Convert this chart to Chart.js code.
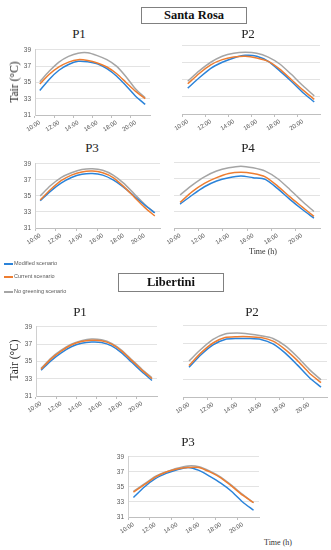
<!DOCTYPE html>
<html>
<head>
<meta charset="utf-8">
<script src="https://cdn.jsdelivr.net/npm/chart.js@4.4.1/dist/chart.umd.min.js"></script>
<style>
  body { margin: 0; background: #fff; width: 331px; height: 550px; position: relative; overflow: hidden; font-family: 'Liberation Serif', serif; color: #111; }
  canvas { position: absolute; }
  .site { position: absolute; border: 1px solid #808080; box-sizing: border-box; text-align: center; font-weight: bold; font-size: 12.5px; }
  .ptitle { position: absolute; font-size: 13px; transform: translate(-50%, -50%); white-space: nowrap; color: #222; }
  .ylab { position: absolute; font-size: 11.5px; transform: translate(-50%, -50%) rotate(-90deg); white-space: nowrap; color: #222; }
  .time { position: absolute; font-size: 8px; transform: translate(-50%, -50%); white-space: nowrap; color: #333; }
  .leg { position: absolute; font-family: 'Liberation Sans', sans-serif; font-size: 5.5px; color: #595959; white-space: nowrap; line-height: 6px; }
  .leg span { display: inline-block; width: 9px; height: 2px; vertical-align: middle; margin-right: 1px; }
</style>
</head>
<body>
<script>
// hourly samples, every second one labelled
const hours = ['10:00', '11:00', '12:00', '13:00', '14:00', '15:00', '16:00', '17:00', '18:00', '19:00', '20:00', '21:00'];
const yTicks = [31, 33, 35, 37, 39];
const seriesNames = ['Modified scenario', 'Current scenario', 'No greening scenario'];
const seriesColors = ['#2b83d9', '#ed7d31', '#a5a5a5'];

// Santa Rosa
const srP1Modified = [34.0, 35.4, 36.5, 37.2, 37.6, 37.55, 37.3, 36.7, 35.8, 34.6, 33.3, 32.3];
const srP1Current  = [34.8, 36.0, 36.9, 37.5, 37.8, 37.7, 37.4, 36.9, 36.1, 35.0, 33.9, 33.0];
const srP1NoGreen  = [35.1, 36.4, 37.5, 38.2, 38.6, 38.65, 38.3, 37.8, 37.0, 35.7, 34.2, 33.1];

const srP2Modified = [34.0, 35.2, 36.3, 37.0, 37.5, 37.8, 37.7, 37.1, 36.0, 34.8, 33.5, 32.4];
const srP2Current  = [34.5, 35.7, 36.7, 37.3, 37.6, 37.7, 37.5, 37.1, 36.2, 35.0, 33.8, 32.7];
const srP2NoGreen  = [34.8, 36.0, 37.0, 37.7, 38.05, 38.15, 38.05, 37.6, 36.8, 35.6, 34.3, 33.1];

const srP3Modified = [34.4, 35.6, 36.6, 37.3, 37.7, 37.8, 37.6, 37.0, 36.1, 35.0, 33.9, 32.9];
const srP3Current  = [34.5, 35.8, 36.9, 37.6, 38.0, 38.1, 37.9, 37.3, 36.2, 34.9, 33.6, 32.5];
const srP3NoGreen  = [35.0, 36.3, 37.3, 37.9, 38.3, 38.4, 38.2, 37.6, 36.6, 35.3, 34.0, 32.9];

const srP4Modified = [33.9, 35.0, 36.0, 36.7, 37.1, 37.3, 37.1, 36.9, 35.8, 34.5, 33.3, 32.2];
const srP4Current  = [34.1, 35.4, 36.4, 37.1, 37.6, 37.75, 37.6, 37.2, 36.1, 34.8, 33.6, 32.4];
const srP4NoGreen  = [35.0, 36.2, 37.2, 37.9, 38.3, 38.5, 38.3, 37.9, 37.0, 35.7, 34.3, 33.0];

// Libertini
const libP1Modified = [34.0, 35.1, 36.0, 36.7, 37.1, 37.25, 37.2, 36.8, 36.0, 34.9, 33.8, 32.8];
const libP1Current  = [34.1, 35.3, 36.2, 36.9, 37.3, 37.45, 37.4, 37.0, 36.2, 35.1, 34.0, 33.0];
const libP1NoGreen  = [34.2, 35.4, 36.3, 37.0, 37.4, 37.6, 37.5, 37.1, 36.3, 35.2, 34.1, 33.1];

const libP2Modified = [34.3, 35.7, 36.8, 37.4, 37.5, 37.5, 37.4, 36.9, 35.9, 34.6, 33.2, 32.1];
const libP2Current  = [34.5, 35.9, 37.0, 37.6, 37.7, 37.7, 37.6, 37.2, 36.3, 35.1, 33.7, 32.6];
const libP2NoGreen  = [35.0, 36.3, 37.4, 38.0, 38.1, 38.0, 37.8, 37.5, 36.7, 35.5, 34.1, 32.9];

const libP3Modified = [33.6, 35.0, 36.1, 36.8, 37.3, 37.6, 37.2, 36.4, 35.5, 34.4, 33.0, 31.9];
const libP3Current  = [34.3, 35.3, 36.3, 37.0, 37.4, 37.6, 37.6, 37.0, 36.2, 35.1, 33.9, 32.9];
const libP3NoGreen  = [34.4, 35.4, 36.4, 37.0, 37.5, 37.8, 37.7, 37.1, 36.3, 35.2, 34.0, 32.9];

const PAD_TOP = 6, PAD_RIGHT = 4, Y_W = 22, X_H = 20;
const sans = "'Liberation Sans', sans-serif";

function addDiv(cls, text, css) {
  const d = document.createElement('div');
  d.className = cls;
  d.textContent = text;
  Object.assign(d.style, css);
  document.body.appendChild(d);
  return d;
}

function makePanel(p) {
  const left = p.x0 - Y_W;
  const top = p.yTop - PAD_TOP;
  const c = document.createElement('canvas');
  c.width = p.x1 - left + PAD_RIGHT;
  c.height = (p.yBot - p.yTop) + PAD_TOP + X_H;
  c.style.left = left + 'px';
  c.style.top = top + 'px';
  document.body.appendChild(c);

  // draw order: orange on top, then blue, gray underneath
  const datasets = [1, 0, 2].map(i => ({
    label: seriesNames[i],
    data: p.series[i],
    borderColor: seriesColors[i],
    backgroundColor: seriesColors[i],
    borderWidth: 1.5,
    pointRadius: 0,
    tension: 0.25,
    fill: false
  }));

  new Chart(c, {
    type: 'line',
    data: { labels: hours, datasets: datasets },
    options: {
      responsive: false,
      animation: false,
      layout: { padding: { top: PAD_TOP, right: PAD_RIGHT, left: 0, bottom: 0 } },
      plugins: { legend: { display: false }, tooltip: { enabled: false } },
      scales: {
        x: {
          type: 'category',
          offset: true,
          grid: {
            offset: true,
            drawOnChartArea: false,
            drawTicks: true,
            tickLength: 3,
            color: ctx => (ctx.index % 2 === 0 ? '#bfbfbf' : 'rgba(0,0,0,0)')
          },
          border: { display: true, color: '#bfbfbf' },
          ticks: {
            autoSkip: false,
            minRotation: 32,
            maxRotation: 32,
            padding: 1,
            color: '#595959',
            font: { family: sans, size: 6 },
            callback: function (v, i) { return i % 2 === 0 ? this.getLabelForValue(v) : ''; }
          },
          afterFit: s => { s.height = X_H; }
        },
        y: {
          min: yTicks[0],
          max: yTicks[yTicks.length - 1],
          ticks: {
            display: p.showY,
            stepSize: 2,
            padding: 4,
            color: '#595959',
            font: { family: sans, size: 6.5 }
          },
          grid: { color: '#e3e3e3', drawTicks: false },
          border: { display: p.showY, color: '#d0d0d0' },
          afterFit: s => { s.width = Y_W; }
        }
      }
    }
  });

  addDiv('ptitle', p.title, { left: p.tx + 'px', top: p.ty + 'px' });
}

// Santa Rosa block
addDiv('site', 'Santa Rosa', { left: '141px', top: '7px', width: '106px', height: '17px', lineHeight: '15px' });
makePanel({ title: 'P1', tx: 79, ty: 34, x0: 35, x1: 150, yTop: 48, yBot: 115, showY: true, series: [srP1Modified, srP1Current, srP1NoGreen] });
makePanel({ title: 'P2', tx: 248, ty: 34, x0: 182, x1: 320, yTop: 45, yBot: 114, showY: false, series: [srP2Modified, srP2Current, srP2NoGreen] });
makePanel({ title: 'P3', tx: 92, ty: 148, x0: 35, x1: 160, yTop: 162, yBot: 228, showY: true, series: [srP3Modified, srP3Current, srP3NoGreen] });
makePanel({ title: 'P4', tx: 248, ty: 148, x0: 174, x1: 320, yTop: 162, yBot: 228, showY: false, series: [srP4Modified, srP4Current, srP4NoGreen] });
addDiv('ylab', 'Tair (°C)', { left: '14px', top: '82px' });
addDiv('time', 'Time (h)', { left: '263px', top: '251px' });

// legend
const legendY = [263, 276, 291];
seriesNames.forEach((name, i) => {
  const d = addDiv('leg', '', { left: '4px', top: (legendY[i] - 3) + 'px' });
  const sw = document.createElement('span');
  sw.style.background = seriesColors[i];
  d.appendChild(sw);
  d.appendChild(document.createTextNode(name));
});

// Libertini block
addDiv('site', 'Libertini', { left: '118px', top: '273px', width: '106px', height: '19px', lineHeight: '17px' });
makePanel({ title: 'P1', tx: 80, ty: 312, x0: 36, x1: 157, yTop: 325, yBot: 396, showY: true, series: [libP1Modified, libP1Current, libP1NoGreen] });
makePanel({ title: 'P2', tx: 252, ty: 312, x0: 183, x1: 327, yTop: 325, yBot: 397, showY: false, series: [libP2Modified, libP2Current, libP2NoGreen] });
makePanel({ title: 'P3', tx: 188, ty: 442, x0: 128, x1: 259, yTop: 455, yBot: 517, showY: true, series: [libP3Modified, libP3Current, libP3NoGreen] });
addDiv('ylab', 'Tair (°C)', { left: '14px', top: '360px' });
addDiv('time', 'Time (h)', { left: '278px', top: '542px' });
</script>
</body>
</html>
